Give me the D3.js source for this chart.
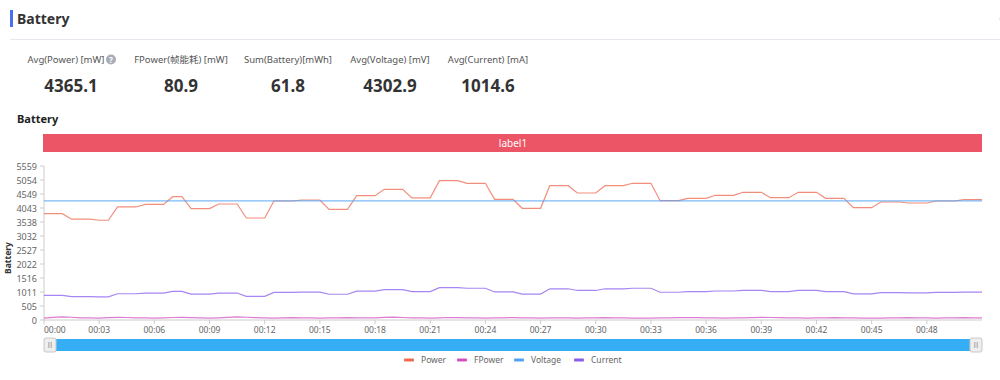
<!DOCTYPE html>
<html><head><meta charset="utf-8">
<script src="https://cdn.jsdelivr.net/npm/d3@7/dist/d3.min.js"></script>
<style>
html,body{margin:0;padding:0;background:#fff;}
svg{display:block;font-family:"Noto Sans","Noto Sans CJK SC",sans-serif;}
</style></head>
<body><svg id="c" width="1000" height="380"></svg>
<script>
// ---- data ----
const statLabels = ["Avg(Power) [mW]", "FPower(帧能耗) [mW]", "Sum(Battery)[mWh]", "Avg(Voltage) [mV]", "Avg(Current) [mA]"];
const statValues = ["4365.1", "80.9", "61.8", "4302.9", "1014.6"];
const seriesNames = ["Power", "FPower", "Voltage", "Current"];
const yTickLabels = [0, 505, 1011, 1516, 2022, 2527, 3032, 3538, 4043, 4549, 5054, 5559];
const xTickLabels = ["00:00","00:03","00:06","00:09","00:12","00:15","00:18","00:21","00:24","00:27","00:30","00:33","00:36","00:39","00:42","00:45","00:48"];
const power = [3837,3837,3837,3640,3640,3640,3600,3600,4080,4080,4080,4175,4175,4175,4450,4450,
  4020,4020,4020,4187,4187,4187,3682,3682,3682,4296,4296,4296,4332,4332,4332,3996,3996,3996,
  4488,4488,4488,4718,4718,4718,4410,4410,4410,5029,5029,5029,4935,4935,4935,4357,4357,4357,
  4032,4032,4032,4849,4849,4849,4585,4585,4585,4849,4849,4849,4935,4935,4935,4307,4307,4307,
  4393,4393,4393,4502,4502,4502,4610,4610,4610,4415,4415,4415,4610,4610,4610,4393,4393,4393,
  4055,4055,4055,4260,4260,4260,4224,4224,4224,4296,4296,4296,4343,4343,4343];
const fpower = [70,95,110,100,80,75,70,85,95,90,80,75,70,80,90,95,85,75,70,80,95,110,100,85,75,
  70,80,85,80,75,70,75,80,85,80,75,80,95,105,90,80,75,70,80,90,85,80,75,70,75,80,85,80,75,
  70,75,80,75,70,75,80,85,80,75,70,65,70,75,80,85,90,85,80,75,70,75,80,85,95,90,85,80,75,70,
  75,80,85,80,75,70,65,70,75,80,85,80,75,70,75,80,85,80,75];
const voltage = power.map(() => 4303);
const current = [892,892,892,846,846,846,837,837,948,948,948,970,970,970,1034,1034,
  934,934,934,973,973,973,856,856,856,998,998,998,1007,1007,1007,929,929,929,
  1043,1043,1043,1096,1096,1096,1025,1025,1025,1169,1169,1169,1147,1147,1147,1013,1013,1013,
  937,937,937,1127,1127,1127,1066,1066,1066,1127,1127,1127,1147,1147,1147,1001,1001,1001,
  1021,1021,1021,1046,1046,1046,1071,1071,1071,1026,1026,1026,1071,1071,1071,1021,1021,1021,
  942,942,942,990,990,990,982,982,982,998,998,998,1009,1009,1009];
const colors = ["#ee6a50", "#d44fc0", "#4fa3f7", "#8a5cf0"];

// ---- drawing ----
const svg = d3.select("#c");
const n = power.length;
const yMax = yTickLabels[yTickLabels.length - 1];
const x = d3.scaleLinear().domain([0, n - 1]).range([44, 982]);
const y = d3.scaleLinear().domain([0, yMax]).range([320, 166]);

// header
svg.append("rect").attr("x", 10).attr("y", 10).attr("width", 3).attr("height", 17).attr("fill", "#4c6ef5");
svg.append("text").attr("x", 17).attr("y", 24).attr("font-size", 14).attr("font-weight", "bold").attr("fill", "#333").text("Battery");
svg.append("line").attr("x1", 10).attr("x2", 1000).attr("y1", 39.5).attr("y2", 39.5).attr("stroke", "#e6e8ef");
svg.append("circle").attr("cx", 1011).attr("cy", 19).attr("r", 11).attr("fill", "none").attr("stroke", "#d0d0d0");

// stats
const centers = [66, 181, 288, 390, 488];
statLabels.forEach((l, i) => {
  const cx = centers[i];
  svg.append("text").attr("x", cx).attr("y", 62.5).attr("text-anchor", "middle")
    .attr("font-size", 9.5).attr("fill", "#555").text(l);
  svg.append("text").attr("x", i === 0 ? 71 : cx).attr("y", 92).attr("text-anchor", "middle")
    .attr("font-size", 17).attr("font-weight", "bold").attr("fill", "#333").text(statValues[i]);
});
svg.append("circle").attr("cx", 111).attr("cy", 59.5).attr("r", 5).attr("fill", "#a8adb8");
svg.append("text").attr("x", 111).attr("y", 62.5).attr("text-anchor", "middle").attr("font-size", 8).attr("font-weight", "bold").attr("fill", "#fff").text("?");

// subtitle
svg.append("text").attr("x", 17).attr("y", 123).attr("font-size", 11).attr("font-weight", "bold").attr("fill", "#222").text("Battery");

// label bar
svg.append("rect").attr("x", x(0) - 1).attr("y", 134).attr("width", x(n - 1) - x(0) + 1).attr("height", 18).attr("fill", "#ec5565");
svg.append("text").attr("x", (x(0) + x(n - 1)) / 2).attr("y", 146.5).attr("text-anchor", "middle").attr("font-size", 10).attr("fill", "#fff").text("label1");

// y axis
const yAxisG = svg.append("g").attr("transform", "translate(44,0)");
yAxisG.append("line").attr("y1", y(0)).attr("y2", y(yMax)).attr("stroke", "#ccc");
yTickLabels.forEach((v, k) => {
  const pos = y(yMax * k / (yTickLabels.length - 1));
  yAxisG.append("line").attr("x1", -4).attr("x2", 0).attr("y1", pos).attr("y2", pos).attr("stroke", "#ccc");
  yAxisG.append("text").attr("x", -7).attr("y", pos + 3.5).attr("text-anchor", "end").attr("font-size", 9).attr("fill", "#666").text(v);
});
svg.append("text").attr("transform", "translate(11,258) rotate(-90)").attr("text-anchor", "middle")
  .attr("font-size", 8.5).attr("font-weight", "bold").attr("fill", "#333").text("Battery");

// x axis
const xAxisG = svg.append("g").attr("transform", "translate(0,320)");
xAxisG.append("line").attr("x1", x(0)).attr("x2", x(n - 1)).attr("stroke", "#ccc");
xTickLabels.forEach((t, k) => {
  const pos = x(k * 6);
  xAxisG.append("line").attr("x1", pos).attr("x2", pos).attr("y1", 0).attr("y2", 4).attr("stroke", "#ccc");
  xAxisG.append("text").attr("x", k === 0 ? pos : pos).attr("y", 13)
    .attr("text-anchor", k === 0 ? "start" : "middle").attr("font-size", 8.5).attr("fill", "#666").text(t);
});

// lines
const lineGen = d3.line().x((d, i) => x(i)).y(d => y(d));
[power, fpower, voltage, current].forEach((s, k) => {
  svg.append("path").datum(s).attr("d", lineGen).attr("fill", "none")
    .attr("stroke", colors[k]).attr("stroke-width", 1.2).attr("stroke-opacity", 0.75);
});

// slider
svg.append("rect").attr("x", x(0)).attr("y", 339).attr("width", x(n - 1) - x(0)).attr("height", 12).attr("fill", "#35aef5");
[x(0) + 6, x(n - 1) - 6].forEach(hx => {
  svg.append("rect").attr("x", hx - 6).attr("y", 338).attr("width", 12).attr("height", 14).attr("rx", 2)
    .attr("fill", "#eeeeee").attr("stroke", "#c8c8c8");
  [-1.5, 0, 1.5].forEach(o => svg.append("line").attr("x1", hx + o).attr("x2", hx + o).attr("y1", 342).attr("y2", 348).attr("stroke", "#999").attr("stroke-width", 0.6));
});

// legend
const legendX = [404, 457, 514, 574];
seriesNames.forEach((name, k) => {
  svg.append("rect").attr("x", legendX[k]).attr("y", 358.5).attr("width", 10).attr("height", 3).attr("rx", 1).attr("fill", colors[k]);
  svg.append("text").attr("x", legendX[k] + 17).attr("y", 363).attr("font-size", 8.5).attr("fill", "#666").text(name);
});
</script></body></html>
